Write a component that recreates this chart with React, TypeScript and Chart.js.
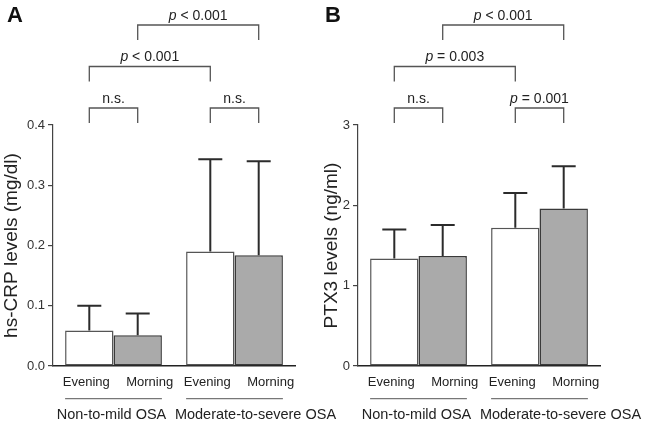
import React, { useEffect, useRef } from 'react';
import { Chart, registerables } from 'chart.js';
Chart.register(...registerables);

const FONT = "'Liberation Sans', Arial, Helvetica, sans-serif";

const groups = ['Non-to-mild OSA', 'Moderate-to-severe OSA'];
const sessions = ['Evening', 'Morning'];

// Panel A: hs-CRP (mg/dl)
const crpEvening = [0.059, 0.19];
const crpMorning = [0.051, 0.184];
const crpEveningSD = [0.041, 0.153];
const crpMorningSD = [0.036, 0.156];

// Panel B: PTX3 (ng/ml)
const ptxEvening = [1.337, 1.72];
const ptxMorning = [1.37, 1.96];
const ptxEveningSD = [0.363, 0.435];
const ptxMorningSD = [0.386, 0.527];

// bar index: 0 = non-to-mild evening, 1 = non-to-mild morning, 2 = mod-severe evening, 3 = mod-severe morning
const crpBracketFrom = [0, 2, 0, 1];
const crpBracketTo = [1, 3, 2, 3];
const crpBracketLevel = [0, 0, 1, 2];
const crpBracketText = ['n.s.', 'n.s.', 'p < 0.001', 'p < 0.001'];

const ptxBracketFrom = [0, 2, 0, 1];
const ptxBracketTo = [1, 3, 2, 3];
const ptxBracketLevel = [0, 0, 1, 2];
const ptxBracketText = ['n.s.', 'p = 0.001', 'p = 0.003', 'p < 0.001'];

function drawPText(ctx: CanvasRenderingContext2D, text: string, cx: number, baseline: number, size: number) {
  ctx.textBaseline = 'alphabetic';
  ctx.textAlign = 'left';
  if (text.startsWith('p ')) {
    const rest = text.slice(1);
    ctx.font = `italic ${size}px ${FONT}`;
    const w1 = ctx.measureText('p').width;
    ctx.font = `${size}px ${FONT}`;
    const w2 = ctx.measureText(rest).width;
    const x0 = cx - (w1 + w2) / 2;
    ctx.font = `italic ${size}px ${FONT}`;
    ctx.fillText('p', x0, baseline);
    ctx.font = `${size}px ${FONT}`;
    ctx.fillText(rest, x0 + w1, baseline);
  } else {
    ctx.font = `${size}px ${FONT}`;
    const w = ctx.measureText(text).width;
    ctx.fillText(text, cx - w / 2, baseline);
  }
}

const decorPlugin = {
  id: 'decor',
  afterDatasetsDraw(chart: any, _args: any, opts: any) {
    const ctx: CanvasRenderingContext2D = chart.ctx;
    const yScale = chart.scales.y;
    const area = chart.chartArea;
    const barAt = (i: number) => chart.getDatasetMeta(i % 2).data[Math.floor(i / 2)];

    ctx.save();
    // error bars
    ctx.strokeStyle = '#2b2b2b';
    ctx.lineWidth = 2;
    opts.sds.forEach((sdArr: number[], t: number) => {
      const meta = chart.getDatasetMeta(t);
      sdArr.forEach((sd: number, g: number) => {
        const el = meta.data[g];
        const mean = chart.data.datasets[t].data[g];
        const top = yScale.getPixelForValue(mean + sd);
        ctx.beginPath();
        ctx.moveTo(el.x, el.y);
        ctx.lineTo(el.x, top);
        ctx.moveTo(el.x - 12, top);
        ctx.lineTo(el.x + 12, top);
        ctx.stroke();
      });
    });

    // significance brackets
    ctx.strokeStyle = '#555';
    ctx.lineWidth = 1.3;
    ctx.fillStyle = '#222';
    opts.bFrom.forEach((from: number, k: number) => {
      const a = barAt(from);
      const b = barAt(opts.bTo[k]);
      const top = area.top - 17 - opts.bLevel[k] * 41.5;
      ctx.beginPath();
      ctx.moveTo(a.x, top + 15);
      ctx.lineTo(a.x, top);
      ctx.lineTo(b.x, top);
      ctx.lineTo(b.x, top + 15);
      ctx.stroke();
      drawPText(ctx, opts.bText[k], (a.x + b.x) / 2, top - 5.5, 14);
    });

    // session labels under bars
    ctx.fillStyle = '#222';
    ctx.font = `13px ${FONT}`;
    ctx.textAlign = 'center';
    ctx.textBaseline = 'alphabetic';
    for (let i = 0; i < 4; i++) {
      const el = barAt(i);
      const off = i % 2 === 0 ? -3 : 12;
      ctx.fillText(sessions[i % 2], el.x + off, area.bottom + 20);
    }

    // group underline + group labels
    const groupOff = [-2, 21];
    for (let g = 0; g < 2; g++) {
      const e = barAt(g * 2);
      const m = barAt(g * 2 + 1);
      const x1 = e.x - e.width / 2;
      const x2 = m.x + m.width / 2;
      ctx.strokeStyle = '#777';
      ctx.lineWidth = 1.3;
      ctx.beginPath();
      ctx.moveTo(x1, area.bottom + 32.7);
      ctx.lineTo(x2, area.bottom + 32.7);
      ctx.stroke();
      ctx.font = `14.5px ${FONT}`;
      ctx.textAlign = 'center';
      ctx.fillStyle = '#222';
      ctx.fillText(groups[g], (x1 + x2) / 2 + groupOff[g], area.bottom + 52.5);
    }

    // panel letter
    ctx.font = `bold 22px ${FONT}`;
    ctx.textAlign = 'left';
    ctx.fillStyle = '#111';
    ctx.fillText(opts.letter, opts.letterX, 22);
    ctx.restore();
  },
};

type PanelProps = {
  letter: string;
  letterX: number;
  evening: number[];
  morning: number[];
  eveningSD: number[];
  morningSD: number[];
  bFrom: number[];
  bTo: number[];
  bLevel: number[];
  bText: string[];
  yMax: number;
  yStep: number;
  decimals: number;
  yTitle: string;
  left: number;
  width: number;
  axisWidth: number;
  padRight: number;
};

function Panel(p: PanelProps) {
  const ref = useRef<HTMLCanvasElement>(null);
  useEffect(() => {
    if (!ref.current) return;
    const chart = new Chart(ref.current, {
      type: 'bar',
      data: {
        labels: groups,
        datasets: [
          {
            label: sessions[0],
            data: p.evening,
            backgroundColor: '#ffffff',
            borderColor: '#555555',
            borderWidth: 1.5,
            borderSkipped: false,
            categoryPercentage: 0.8,
            barPercentage: 1,
          },
          {
            label: sessions[1],
            data: p.morning,
            backgroundColor: '#aaaaaa',
            borderColor: '#3a3a3a',
            borderWidth: 1.5,
            borderSkipped: false,
            categoryPercentage: 0.8,
            barPercentage: 1,
          },
        ],
      },
      options: {
        responsive: false,
        animation: false,
        events: [],
        layout: { padding: { left: 0, right: p.padRight, top: 125, bottom: 0 } },
        plugins: {
          legend: { display: false },
          tooltip: { enabled: false },
          decor: {
            letter: p.letter,
            letterX: p.letterX,
            sds: [p.eveningSD, p.morningSD],
            bFrom: p.bFrom,
            bTo: p.bTo,
            bLevel: p.bLevel,
            bText: p.bText,
          },
        } as any,
        scales: {
          x: {
            grid: { display: false },
            border: { display: true, color: '#222', width: 1.5 },
            ticks: { display: false },
            afterFit: (s: any) => {
              s.height = 58;
            },
          },
          y: {
            min: 0,
            max: p.yMax,
            ticks: {
              stepSize: p.yStep,
              callback: (v: any) => Number(v).toFixed(p.decimals),
              font: { size: 13, family: FONT },
              color: '#333',
              padding: 3,
            },
            grid: {
              display: true,
              drawOnChartArea: false,
              drawTicks: true,
              tickLength: 5,
              color: '#444',
              lineWidth: 1.2,
            },
            border: { display: true, color: '#444', width: 1.2 },
            title: {
              display: true,
              text: p.yTitle,
              font: { size: 19, family: FONT },
              color: '#222',
              padding: { top: 0, bottom: 0 },
            },
            afterFit: (s: any) => {
              s.width = p.axisWidth;
            },
          },
        },
      },
      plugins: [decorPlugin],
    });
    return () => chart.destroy();
  }, []);
  return (
    <canvas
      ref={ref}
      width={p.width}
      height={424}
      style={{ position: 'absolute', left: p.left, top: 0, width: p.width, height: 424 }}
    />
  );
}

export default function App() {
  return (
    <div style={{ position: 'fixed', left: 0, top: 0, width: 647, height: 424, background: '#fff', overflow: 'hidden' }}>
      <Panel
        letter="A"
        letterX={7}
        evening={crpEvening}
        morning={crpMorning}
        eveningSD={crpEveningSD}
        morningSD={crpMorningSD}
        bFrom={crpBracketFrom}
        bTo={crpBracketTo}
        bLevel={crpBracketLevel}
        bText={crpBracketText}
        yMax={0.4}
        yStep={0.1}
        decimals={1}
        yTitle="hs-CRP levels (mg/dl)"
        left={0}
        width={340}
        axisWidth={53}
        padRight={45}
      />
      <Panel
        letter="B"
        letterX={5}
        evening={ptxEvening}
        morning={ptxMorning}
        eveningSD={ptxEveningSD}
        morningSD={ptxMorningSD}
        bFrom={ptxBracketFrom}
        bTo={ptxBracketTo}
        bLevel={ptxBracketLevel}
        bText={ptxBracketText}
        yMax={3}
        yStep={1}
        decimals={0}
        yTitle="PTX3 levels (ng/ml)"
        left={320}
        width={327}
        axisWidth={38}
        padRight={47}
      />
    </div>
  );
}
